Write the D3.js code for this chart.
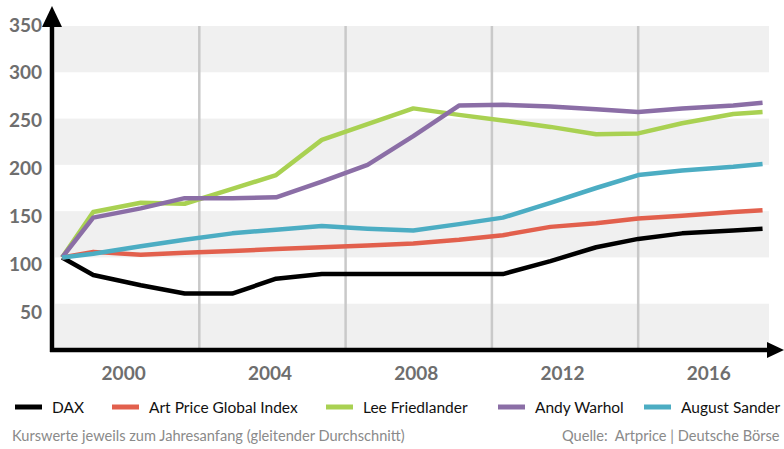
<!DOCTYPE html>
<html>
<head>
<meta charset="utf-8">
<script src="https://cdn.jsdelivr.net/npm/d3@7"></script>
<style>
  body { margin: 0; background: #fff; }
  text { font-family: Lato, "Open Sans", sans-serif; }
</style>
</head>
<body>
<svg id="chart" width="784" height="449"></svg>
<script>
// sample dates (fractional years, moving average points)
var dates = [1998.25, 1999.1, 2000.4, 2001.6, 2002.9, 2004.1, 2005.35, 2006.6, 2007.85,
             2009.1, 2010.3, 2011.6, 2012.85, 2014.0, 2015.2, 2016.6, 2017.4];

var dax        = [100, 81, 70, 61, 61, 77, 82, 82, 82, 82, 82, 96, 111, 120, 126, 129, 131];
var artPrice   = [100, 106, 103, 105, 107, 109, 111, 113, 115, 119, 124, 133, 137, 142, 145, 149, 151];
var friedlander= [100, 149, 159, 158, 174, 189, 227, 244, 261, 254, 248, 241, 233, 234, 245, 255, 257];
var warhol     = [100, 143, 153, 164, 164, 165, 182, 200, 231, 264, 265, 263, 260, 257, 261, 264, 267];
var sander     = [100, 104, 112, 119, 126, 130, 134, 131, 129, 136, 143, 159, 175, 189, 194, 198, 201];

var seriesNames = ['DAX', 'Art Price Global Index', 'Lee Friedlander', 'Andy Warhol', 'August Sander'];
var seriesColors = ['#000000', '#e2604d', '#a9d152', '#8b6ea6', '#4cadc3'];
var seriesValues = [dax, artPrice, friedlander, warhol, sander];

var yTicks = [50, 100, 150, 200, 250, 300, 350];
var xTicks = [2000, 2004, 2008, 2012, 2016];
var gridYears = [2002, 2006, 2010, 2014];
var bandRanges = [[300, 350], [200, 250], [100, 150], [0, 50]];

var svg = d3.select('#chart');

var x = d3.scaleLinear().domain([1998, 2018]).range([53, 784.5]);
var y = d3.scaleLinear().domain([0, 350]).range([350, 26]);
// tick labels in the original sit a bit lower than the grid bands
var yLabel = d3.scaleLinear().domain([50, 350]).range([312, 25]);

// grey bands
svg.append('g').selectAll('rect')
    .data(bandRanges)
    .enter().append('rect')
        .attr('x', 55)
        .attr('width', 714)
        .attr('y', function(d){ return y(d[1]); })
        .attr('height', function(d){ return y(d[0]) - y(d[1]); })
        .style('fill', '#f0f0f0');

// vertical grid lines
svg.append('g').selectAll('line')
    .data(gridYears)
    .enter().append('line')
        .attr('x1', function(d){ return x(d); })
        .attr('x2', function(d){ return x(d); })
        .attr('y1', y(350))
        .attr('y2', 348)
        .style('stroke', '#c9c9c9')
        .style('stroke-width', 2.5);

// series lines
var line = d3.line()
    .x(function(d, i){ return x(dates[i]); })
    .y(function(d){ return y(d); });

svg.append('g').selectAll('path')
    .data(seriesValues)
    .enter().append('path')
        .attr('d', line)
        .style('fill', 'none')
        .style('stroke', function(d, i){ return seriesColors[i]; })
        .style('stroke-width', 4.5)
        .style('stroke-linejoin', 'round');

// axes with arrow heads
var axisG = svg.append('g');
axisG.append('line')
    .attr('x1', 52).attr('x2', 52).attr('y1', 352).attr('y2', 22)
    .style('stroke', '#000').style('stroke-width', 4.5);
axisG.append('path')
    .attr('d', 'M42,27 L52,6 L62,27 Z')
    .style('fill', '#000');
axisG.append('line')
    .attr('x1', 50).attr('x2', 770).attr('y1', 350).attr('y2', 350)
    .style('stroke', '#000').style('stroke-width', 4.5);
axisG.append('path')
    .attr('d', 'M767,342 L784,350 L767,358 Z')
    .style('fill', '#000');

// y tick labels
var yAxis = d3.axisLeft(yLabel).tickValues(yTicks).tickSize(0).tickPadding(10);
svg.append('g')
    .attr('transform', 'translate(52,0)')
    .call(yAxis)
    .call(function(g){ g.select('.domain').remove(); })
    .selectAll('text')
        .style('font-family', 'Lato, sans-serif')
        .style('font-weight', 'bold')
        .style('font-size', '19px')
        .style('fill', '#6e6e6e');

// x tick labels
var xAxis = d3.axisBottom(x).tickValues(xTicks).tickFormat(d3.format('d')).tickSize(0).tickPadding(17);
svg.append('g')
    .attr('transform', 'translate(-3,350)')
    .call(xAxis)
    .call(function(g){ g.select('.domain').remove(); })
    .selectAll('text')
        .style('font-family', 'Lato, sans-serif')
        .style('font-weight', 'bold')
        .style('font-size', '19px')
        .style('fill', '#6e6e6e');

// legend
var legendX = [15, 112, 326, 498, 644];
var legend = svg.append('g').selectAll('g')
    .data(seriesNames)
    .enter().append('g')
        .attr('transform', function(d, i){ return 'translate(' + legendX[i] + ',407)'; });
legend.append('line')
    .attr('x1', 0).attr('x2', 27).attr('y1', 0).attr('y2', 0)
    .style('stroke', function(d, i){ return seriesColors[i]; })
    .style('stroke-width', 5);
legend.append('text')
    .attr('x', 37)
    .attr('y', 5.5)
    .text(function(d){ return d; })
    .style('font-size', '15.5px')
    .style('fill', '#111');

// footer
svg.append('text')
    .attr('x', 12).attr('y', 441)
    .text('Kurswerte jeweils zum Jahresanfang (gleitender Durchschnitt)')
    .style('font-size', '14.6px')
    .style('fill', '#8a8a8a');
svg.append('text')
    .attr('x', 562).attr('y', 441)
    .attr('xml:space', 'preserve')
    .text('Quelle:  Artprice | Deutsche Börse')
    .style('font-size', '14.6px')
    .style('fill', '#8a8a8a');
</script>
</body>
</html>
